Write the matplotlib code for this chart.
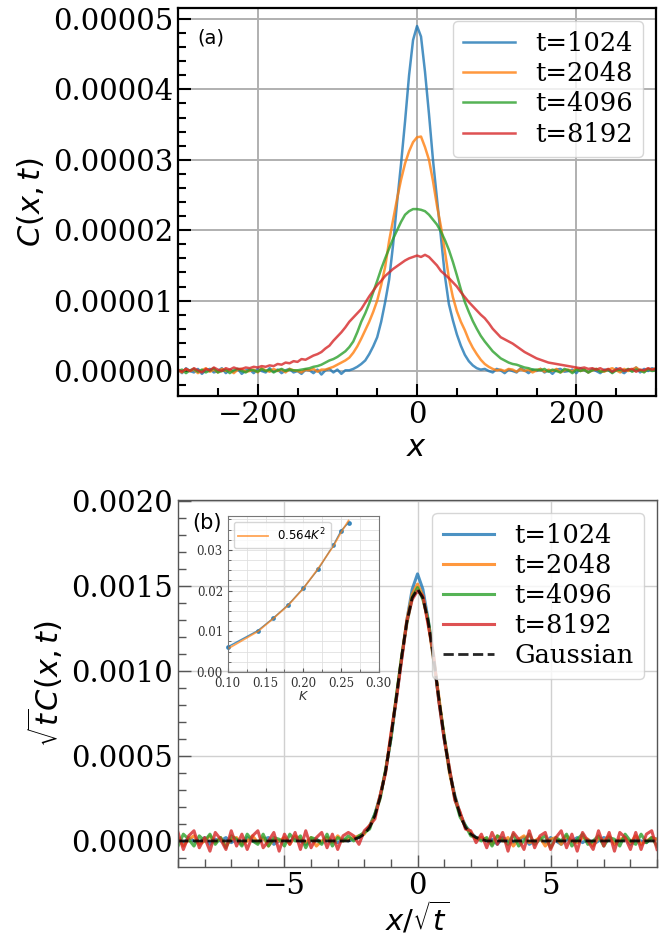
import matplotlib

matplotlib.use("Agg")
import matplotlib.pyplot as plt  # noqa: E402
import numpy as np  # noqa: E402
from matplotlib.ticker import MultipleLocator, FormatStrFormatter  # noqa: E402

plt.rcParams["font.family"] = ["DejaVu Serif"]
plt.rcParams["mathtext.fontset"] = "dejavusans"

# ---- panel (a): C(x, t), values in units of 1e-5, x = -300..300 step 5
x_a = np.arange(-300, 301, 5)
c1024 = [
    0.02, -0.03, 0.04, 0.00, -0.02, 0.03, -0.04, 0.01, 0.03, -0.02,
    0.00, 0.04, -0.03, 0.02, -0.01, 0.03, -0.04, 0.01, 0.02, -0.03,
    0.03, 0.00, -0.02, 0.04, -0.01, 0.02, -0.03, 0.01, 0.03, -0.02,
    0.00, -0.04, 0.02, 0.01, -0.03, 0.02, -0.05, 0.01, 0.03, -0.02,
    0.02, -0.04, 0.01,
    0.01, 0.03, 0.06, 0.10, 0.15, 0.24, 0.35, 0.48, 0.70, 0.98,
    1.30, 1.80, 2.40, 2.95, 3.55, 4.20, 4.70, 4.90, 4.75, 4.25,
    3.65, 3.00, 2.45, 1.90, 1.35, 0.95, 0.72, 0.52, 0.36, 0.23,
    0.14, 0.08, 0.04, 0.02, 0.03,
    0.00, -0.02, 0.03, 0.01, -0.03, 0.02, 0.00, -0.02, 0.04, 0.01,
    -0.03, 0.02, 0.00, 0.03, -0.02, 0.01, -0.04, 0.02, 0.03, -0.01,
    0.00, 0.02, -0.03, 0.04, 0.01, -0.02, 0.03, 0.00, -0.03, 0.02,
    0.01, -0.02, 0.04, 0.00, -0.03, 0.02, 0.01, 0.05, -0.02, 0.03,
    0.00, 0.04, 0.02]
c2048 = [
    0.01, -0.02, 0.03, 0.00, 0.02, -0.03, 0.01, 0.04, -0.01, 0.02,
    -0.02, 0.03, 0.00, 0.01, -0.03, 0.02, 0.03, -0.01, 0.00, 0.02,
    -0.02, 0.04, 0.01, -0.01, 0.03, 0.00, 0.02, -0.02, 0.03, 0.01,
    0.00, -0.02, 0.02, 0.01, 0.03, -0.01, 0.02,
    0.02, 0.04, 0.06, 0.09, 0.12, 0.15, 0.19, 0.26, 0.35, 0.46,
    0.58, 0.70, 0.84, 1.00, 1.22, 1.48, 1.85, 2.15, 2.45, 2.72,
    2.95, 3.12, 3.25, 3.32, 3.33, 3.18, 3.00, 2.70, 2.35, 2.05,
    1.70, 1.32, 1.05, 0.85, 0.70, 0.58, 0.44, 0.33, 0.24, 0.16,
    0.10, 0.06, 0.03, 0.01, 0.02, 0.00, 0.03,
    0.02, -0.01, 0.03, 0.00, 0.02, -0.02, 0.01, 0.03, -0.01, 0.02,
    0.00, 0.03, -0.02, 0.01, 0.02, -0.01, 0.04, 0.00, 0.02, -0.02,
    0.01, 0.03, 0.00, -0.01, 0.02, 0.04, 0.01, -0.02, 0.03, 0.00,
    0.02, 0.05, 0.01, -0.01, 0.03, 0.02, 0.04]
c4096 = [
    0.00, 0.02, -0.03, 0.01, 0.03, -0.01, 0.02, -0.02, 0.01, 0.04,
    -0.02, 0.00, 0.02, -0.03, 0.01, 0.03, 0.00, -0.02, 0.02, 0.01,
    -0.01, 0.03, 0.00, 0.02, -0.02, 0.01, 0.03, 0.00, 0.02, 0.01,
    0.01, 0.02, 0.03, 0.04, 0.06, 0.07, 0.09, 0.12, 0.15, 0.17,
    0.20, 0.24, 0.28, 0.34, 0.42, 0.55, 0.70, 0.82, 0.96, 1.12,
    1.28, 1.45, 1.60, 1.74, 1.88, 2.00, 2.12, 2.22, 2.27, 2.30,
    2.30,
    2.29, 2.27, 2.22, 2.15, 2.08, 1.98, 1.86, 1.72, 1.55, 1.36,
    1.16, 0.98, 0.84, 0.71, 0.60, 0.50, 0.42, 0.35, 0.28, 0.23,
    0.18, 0.15, 0.12, 0.10, 0.09, 0.07, 0.05, 0.04, 0.02, 0.02,
    0.01, 0.03, -0.01, 0.02, 0.00, -0.02, 0.03, 0.01, -0.03, 0.02,
    0.00, 0.02, -0.02, 0.01, 0.03, -0.01, 0.00, 0.02, -0.03, 0.01,
    0.02, 0.00, 0.03, -0.01, 0.02, 0.01, -0.02, 0.03, 0.00, 0.01]
c8192 = [
    0.02, -0.01, 0.03, 0.00, 0.04, 0.01, -0.02, 0.03, 0.01, 0.05,
    0.02, 0.00, 0.04, 0.02, 0.05, 0.03,
    0.03, 0.05, 0.04, 0.06, 0.05, 0.07, 0.06, 0.08, 0.07, 0.10,
    0.09, 0.12, 0.11, 0.14, 0.13, 0.17, 0.16, 0.19, 0.22, 0.24,
    0.27, 0.32, 0.36, 0.43, 0.49, 0.55, 0.62, 0.70, 0.76, 0.82,
    0.88, 0.97, 1.06, 1.14, 1.22, 1.28, 1.35, 1.40, 1.45, 1.49,
    1.53, 1.57, 1.60, 1.62, 1.64, 1.62, 1.65, 1.62, 1.56, 1.50,
    1.42, 1.37, 1.32, 1.26, 1.20, 1.12, 1.05, 0.98, 0.92, 0.86,
    0.80, 0.75, 0.68, 0.60, 0.54, 0.48, 0.45, 0.42, 0.39, 0.35,
    0.31, 0.27, 0.24, 0.21, 0.18, 0.16, 0.14, 0.12, 0.11, 0.10,
    0.09, 0.08, 0.07, 0.06, 0.05, 0.04, 0.05, 0.03, 0.04,
    0.02, 0.04, 0.01, 0.03, -0.01, 0.02, 0.04, 0.00, 0.02, 0.03,
    -0.01, 0.02, 0.01, 0.04, 0.02, 0.03]

# ---- panel (b): sqrt(t) C, values in units of 1e-3, x/sqrt(t) = -9..9 step 0.2
x_b = np.linspace(-9, 9, 91)
s1024 = [
    0.01, -0.02, 0.02, 0.00, -0.01, 0.02, -0.02, 0.01, 0.00, 0.02, -0.01,
    0.01, -0.02, 0.02, 0.00, -0.01, 0.01, 0.02, -0.02, 0.00, 0.01, -0.01,
    0.02, 0.00, -0.02, 0.01, 0.01, -0.01, 0.02, 0.00, -0.01, 0.01, 0.00,
    0.01, 0.02, 0.05, 0.09, 0.16, 0.27, 0.41, 0.60, 0.83, 1.07, 1.30, 1.48,
    1.57, 1.48, 1.30, 1.07, 0.83, 0.60, 0.41, 0.27, 0.16, 0.09, 0.05, 0.02, 0.01,
    0.00, 0.01, -0.02, 0.02, 0.00, -0.01, 0.01, 0.02, -0.02, 0.00, 0.01,
    -0.01, 0.02, 0.00, -0.02, 0.01, 0.00, 0.02, -0.01, 0.01, -0.02, 0.00,
    0.02, 0.01, -0.01, 0.00, 0.02, -0.02, 0.01, 0.00, -0.01, 0.02, 0.01]
s2048 = [
    0.02, -0.03, 0.01, 0.03, -0.02, 0.00, 0.03, -0.01, 0.02, -0.03, 0.01,
    0.02, -0.02, 0.00, 0.03, -0.01, 0.02, -0.03, 0.01, 0.00, 0.02, -0.02,
    0.03, 0.01, -0.01, 0.02, -0.03, 0.00, 0.02, -0.01, 0.03, 0.00, 0.01,
    0.02, 0.03, 0.04, 0.09, 0.15, 0.27, 0.41, 0.62, 0.84, 1.08, 1.30, 1.45,
    1.51, 1.44, 1.28, 1.07, 0.85, 0.61, 0.40, 0.26, 0.16, 0.08, 0.05, 0.01, 0.02,
    0.01, -0.02, 0.03, 0.00, 0.02, -0.03, 0.01, 0.03, -0.01, 0.00, 0.02,
    -0.03, 0.01, 0.02, -0.02, 0.03, 0.00, -0.01, 0.02, 0.01, -0.03, 0.02,
    0.00, 0.03, -0.02, 0.01, 0.02, -0.01, 0.03, -0.02, 0.00, 0.02, 0.01]
s4096 = [
    -0.03, 0.04, 0.01, -0.03, 0.03, 0.00, 0.04, -0.02, 0.02, -0.04, 0.03,
    0.01, -0.03, 0.04, 0.00, -0.02, 0.04, -0.03, 0.02, 0.01, -0.03, 0.04,
    0.00, 0.03, -0.04, 0.02, 0.01, -0.02, 0.04, -0.03, 0.02, 0.00, 0.03,
    0.00, 0.03, 0.05, 0.07, 0.16, 0.25, 0.42, 0.60, 0.85, 1.08, 1.28, 1.43,
    1.49, 1.42, 1.30, 1.09, 0.83, 0.62, 0.42, 0.25, 0.14, 0.09, 0.03, 0.02, 0.00,
    0.02, -0.03, 0.03, 0.01, -0.02, 0.04, -0.03, 0.00, 0.04, -0.02, 0.01,
    0.03, -0.04, 0.02, 0.00, 0.04, -0.03, 0.01, 0.04, -0.02, 0.00, 0.03,
    -0.03, 0.02, 0.01, -0.03, 0.04, 0.00, -0.02, 0.04, -0.01, 0.02, -0.03]
s8192 = [
    0.05, -0.05, 0.03, 0.06, -0.04, 0.02, -0.06, 0.05, 0.01, -0.05, 0.06,
    -0.03, 0.04, -0.05, 0.03, 0.06, -0.04, 0.00, 0.05, -0.06, 0.04, -0.02,
    0.05, -0.05, 0.06, -0.04, 0.02, 0.05, -0.04, 0.04, -0.05, 0.03, 0.05,
    0.03, -0.02, 0.06, 0.09, 0.13, 0.27, 0.40, 0.63, 0.83, 1.06, 1.29, 1.42,
    1.47, 1.44, 1.27, 1.10, 0.82, 0.60, 0.43, 0.24, 0.17, 0.07, 0.06, -0.01, 0.04,
    -0.04, 0.05, -0.02, 0.05, -0.06, 0.05, 0.01, -0.05, 0.06, -0.04, 0.03,
    0.05, -0.05, 0.02, 0.06, -0.04, 0.04, -0.06, 0.05, 0.00, -0.05, 0.06,
    -0.03, 0.05, -0.06, 0.05, 0.02, -0.05, 0.05, -0.05, 0.04, 0.06, -0.05]
gauss = [
    0.00, 0.00, 0.00, 0.00, 0.00, 0.00, 0.00, 0.00, 0.00, 0.00, 0.00,
    0.00, 0.00, 0.00, 0.00, 0.00, 0.00, 0.00, 0.00, 0.00, 0.00, 0.00,
    0.00, 0.00, 0.00, 0.00, 0.00, 0.00, 0.00, 0.00, 0.00, 0.00, 0.00,
    0.01, 0.02, 0.04, 0.08, 0.15, 0.26, 0.41, 0.61, 0.84, 1.08, 1.29, 1.43,
    1.48, 1.43, 1.29, 1.08, 0.84, 0.61, 0.41, 0.26, 0.15, 0.08, 0.04, 0.02, 0.01,
    0.00, 0.00, 0.00, 0.00, 0.00, 0.00, 0.00, 0.00, 0.00, 0.00, 0.00,
    0.00, 0.00, 0.00, 0.00, 0.00, 0.00, 0.00, 0.00, 0.00, 0.00, 0.00,
    0.00, 0.00, 0.00, 0.00, 0.00, 0.00, 0.00, 0.00, 0.00, 0.00, 0.00]

labels = ["t=1024", "t=2048", "t=4096", "t=8192"]
colors = ["tab:blue", "tab:orange", "tab:green", "tab:red"]

# ---- inset: fitted coefficient vs K
K_pts = [0.10, 0.14, 0.16, 0.18, 0.20, 0.22, 0.24, 0.25, 0.26]
coef_pts = [0.0062, 0.0102, 0.0132, 0.0165, 0.0206, 0.0253, 0.0312, 0.0347, 0.0367]
coef_fit = [0.0057, 0.0100, 0.0131, 0.0164, 0.0205, 0.0255, 0.0310, 0.0343, 0.0372]

fig = plt.figure(figsize=(6.68, 9.42), dpi=100)

# panel (a)
ax1 = fig.add_axes([0.2665, 0.5796, 0.7156, 0.4119])
for ys, lab, col in zip([c1024, c2048, c4096, c8192], labels, colors):
    ax1.plot(x_a, np.array(ys) * 1e-5, color=col, lw=1.8, alpha=0.8, label=lab)
ax1.set_xlim(-300, 300)
ax1.set_ylim(-0.355e-5, 5.156e-5)
ax1.xaxis.set_major_locator(MultipleLocator(200))
ax1.xaxis.set_minor_locator(MultipleLocator(50))
ax1.yaxis.set_major_locator(MultipleLocator(1e-5))
ax1.yaxis.set_minor_locator(MultipleLocator(0.2e-5))
ax1.yaxis.set_major_formatter(FormatStrFormatter("%.5f"))
ax1.tick_params(which="both", direction="in", labelsize=21, width=1.5)
ax1.tick_params(which="major", length=9)
ax1.tick_params(which="minor", length=6)
for s in ax1.spines.values():
    s.set_linewidth(1.6)
ax1.grid(True, color="#b0b0b0", lw=1.4)
ax1.set_axisbelow(True)
ax1.set_xlabel("$x$", fontsize=22, labelpad=2)
ax1.set_ylabel("$C(x,t)$", fontsize=22)
ax1.text(0.04, 0.923, "(a)", transform=ax1.transAxes, fontsize=14,
         family="DejaVu Sans", va="center")
ax1.legend(loc="upper right", fontsize=18.5, labelspacing=0.2, framealpha=0.8)

# panel (b)
ax2 = fig.add_axes([0.2665, 0.0800, 0.7171, 0.3895])
for ys, lab, col in zip([s1024, s2048, s4096, s8192], labels, colors):
    ax2.plot(x_b, np.array(ys) * 1e-3, color=col, lw=2.2, alpha=0.8, label=lab)
ax2.plot(x_b, np.array(gauss) * 1e-3, "--", color="black", lw=2, alpha=0.85,
         label="Gaussian")
ax2.set_xlim(-9, 9)
ax2.set_ylim(-0.000151, 0.002006)
ax2.xaxis.set_major_locator(MultipleLocator(5))
ax2.xaxis.set_minor_locator(MultipleLocator(1))
ax2.yaxis.set_major_locator(MultipleLocator(5e-4))
ax2.yaxis.set_minor_locator(MultipleLocator(1e-4))
ax2.yaxis.set_major_formatter(FormatStrFormatter("%.4f"))
ax2.tick_params(which="both", direction="in", labelsize=21, width=1.0,
                color="#555555")
ax2.tick_params(which="major", length=9)
ax2.tick_params(which="minor", length=6)
for s in ax2.spines.values():
    s.set_linewidth(1.0)
    s.set_color("#555555")
ax2.grid(True, color="#d0d0d0", lw=1.0)
ax2.set_axisbelow(True)
ax2.set_xlabel(r"$x/\sqrt{t}$", fontsize=21, labelpad=0)
ax2.set_ylabel(r"$\sqrt{t}C(x,t)$", fontsize=22)
ax2.text(0.03, 0.937, "(b)", transform=ax2.transAxes, fontsize=15,
         family="DejaVu Sans", va="center")
ax2.legend(loc="upper right", fontsize=18.5, labelspacing=0.2, framealpha=0.8)

# inset
axin = fig.add_axes([0.341, 0.2866, 0.226, 0.1655], facecolor="none")
axin.plot(K_pts, coef_pts, "o-", color="tab:blue", ms=2.5, lw=1, alpha=0.8,
          clip_on=False)
axin.plot(K_pts, coef_fit, color="tab:orange", lw=1.3, alpha=0.7,
          label="0.564$K^2$")
axin.set_xlim(0.1, 0.3)
axin.set_ylim(0, 0.0383)
axin.xaxis.set_major_locator(MultipleLocator(0.05))
axin.xaxis.set_minor_locator(MultipleLocator(0.025))
axin.yaxis.set_major_locator(MultipleLocator(0.01))
axin.yaxis.set_minor_locator(MultipleLocator(0.0025))
axin.xaxis.set_major_formatter(FormatStrFormatter("%.2f"))
axin.yaxis.set_major_formatter(FormatStrFormatter("%.2f"))
axin.tick_params(which="both", direction="in", labelsize=8.5, color="#555555",
                 labelcolor="#333333")
axin.tick_params(which="major", length=3)
axin.tick_params(which="minor", length=2)
for s in axin.spines.values():
    s.set_linewidth(0.8)
    s.set_color("#777777")
axin.grid(True, which="both", color="#e0e0e0", lw=0.6)
axin.set_xlabel("$K$", fontsize=9, labelpad=0, color="#333333")
axin.legend(loc="upper left", handlelength=2.5,
            prop={"family": "DejaVu Sans", "size": 8.5})

fig.savefig("out.png", dpi=100)
plt.close(fig)
